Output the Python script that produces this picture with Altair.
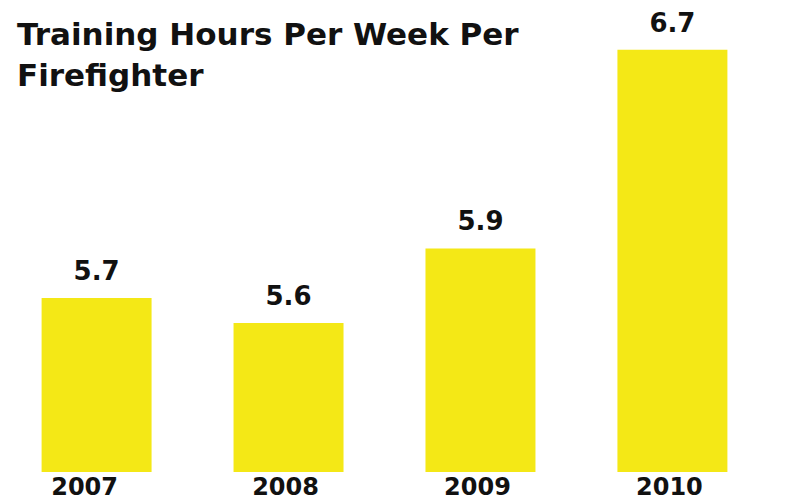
import altair as alt
import pandas as pd

years = ["2007", "2008", "2009", "2010"]
hours = [5.7, 5.6, 5.9, 6.7]
title_lines = ["Training Hours Per Week Per", "Firefighter"]
y_floor = 5.0

df = pd.DataFrame({"year": years, "hours": hours})

FONT = "DejaVu Sans"
BAR = "#F4E816"
INK = "#111111"

base = alt.Chart(df).encode(
    x=alt.X(
        "year:N",
        sort=years,
        scale=alt.Scale(paddingInner=0.427, paddingOuter=0.175),
        axis=alt.Axis(
            title=None, domain=False, ticks=False, tickSize=0, labelAngle=0,
            labelFont=FONT, labelFontSize=24, labelFontWeight="bold",
            labelColor=INK, labelBaseline="alphabetic", labelPadding=22,
            labelOffset={"condition": {"test": "datum.value == '2007'", "value": -12}, "value": -3},
            grid=False,
        ),
    ),
    y=alt.Y(
        "hours:Q",
        scale=alt.Scale(domain=[y_floor, 6.868], zero=False, nice=False),
        axis=None,
    ),
)

bars = base.mark_bar(color=BAR).encode(y2=alt.datum(y_floor))
labels = base.mark_text(
    font=FONT, fontSize=26, fontWeight="bold", color=INK,
    baseline="alphabetic", dy=-18,
).encode(text=alt.Text("hours:Q", format=".1f"))

chart = (
    (bars + labels)
    .properties(
        width=753,
        height=464,
        autosize=alt.AutoSizeParams(type="none"),
        padding={"left": 0, "top": 0, "right": 20, "bottom": 27},
        title=alt.TitleParams(
            text=title_lines, anchor="start", frame="group", orient="top",
            font=FONT, fontSize=31, fontWeight="bold", color=INK,
            baseline="alphabetic", lineHeight=41, offset=-38, dx=9, dy=71,
        ),
    )
    .configure(background="white")
    .configure_view(stroke="transparent", strokeWidth=0)
)

chart.save("out.html", embed_options={"renderer": "svg", "actions": False})
